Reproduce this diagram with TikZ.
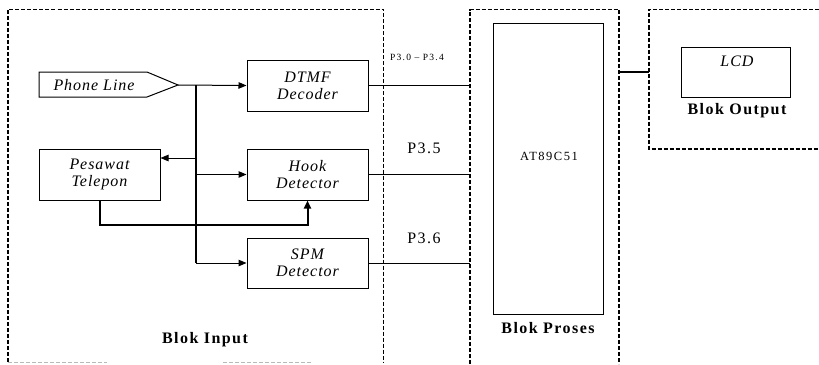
\documentclass[tikz,border=0pt]{standalone}
\usepackage{fontspec}
\setmainfont{Liberation Serif}
\newfontfamily\itlbl[LetterSpace=6]{Liberation Serif}
\newfontfamily\bdlbl[LetterSpace=9]{Liberation Serif}
\newfontfamily\portlbl[LetterSpace=9]{Liberation Serif}
\newfontfamily\mculbl[LetterSpace=12]{Liberation Serif}
\newfontfamily\tinylbl[LetterSpace=13]{Liberation Serif}
\usetikzlibrary{arrows.meta}
\tikzset{
  blk/.style={draw, line width=1pt, inner sep=0pt, align=center,
    font=\itlbl\itshape\fontsize{16}{17}\selectfont},
  grp/.style={line width=1.6pt, dash pattern=on 4pt off 2pt},
  grpfaint/.style={line width=1pt, draw=gray!55, dash pattern=on 4pt off 2pt},
  wire/.style={line width=1pt},
  bus/.style={line width=2pt},
  arr/.style={line width=1pt, -{Triangle[length=8pt,width=6.5pt]}},
  thickarr/.style={line width=2pt, -{Triangle[length=8pt,width=7pt]}},
  grplbl/.style={font=\bdlbl\bfseries\fontsize{16}{17}\selectfont},
  portl/.style={font=\portlbl\fontsize{16}{17}\selectfont},
}
\begin{document}
\begin{tikzpicture}[x=1pt,y=-1pt]
\useasboundingbox (0,0) rectangle (819,364);
% group boxes
\coordinate (inTL) at (8,9.5);
\coordinate (inTR) at (383.5,9.5);
\coordinate (inBR) at (383.5,362);
\coordinate (inBL) at (8,362);
\draw[grp] (inBL) -- (inTL) -- (inTR) -- (inBR);
\draw[grpfaint] (8,362) -- (107,362) (223,362) -- (312,362);
\coordinate (prTL) at (470,9.5);
\coordinate (prTR) at (619,9.5);
\draw[grp] (470,364) -- (prTL) -- (prTR) -- (619,364);
\coordinate (ouTL) at (649,9.5);
\coordinate (ouBL) at (649,149);
\draw[grp] (819,9.5) -- (ouTL) -- (ouBL) -- (819,149);
% blocks
\node[blk, minimum width=121pt, minimum height=51pt] (dtmf) at (307.5,85.5) {DTMF\\Decoder};
\node[blk, minimum width=121pt, minimum height=51pt] (hook) at (307.5,174.5) {Hook\\Detector};
\node[blk, minimum width=121pt, minimum height=50pt] (spm) at (307.5,263) {SPM\\Detector};
\node[blk, minimum width=121pt, minimum height=51pt] (pes) at (99.5,174.5) {Pesawat\\Telepon};
% phone line
\draw[line width=1pt] (39,72) -- (147,72) -- (178,85) coordinate (pl) -- (147,97) -- (39,97) -- cycle;
\node[font=\itlbl\itshape\fontsize{16}{17}\selectfont, inner sep=0pt] (pltxt) at (94,85) {Phone Line};
% processor
\node[draw, line width=1pt, minimum width=110pt, minimum height=291pt, inner sep=0pt] (mcu) at (548,168.5) {};
\node[font=\mculbl\fontsize{12.5}{14}\selectfont, inner sep=0pt] (mcutxt) at (549,156) {AT89C51};
% LCD
\node[draw, line width=1pt, minimum width=109pt, minimum height=50pt, inner sep=0pt] (lcd) at (735.5,72) {};
\node[font=\itlbl\itshape\fontsize{16}{17}\selectfont, inner sep=0pt] (lcdtxt) at (737,61) {LCD};
% group labels
\node[grplbl, inner sep=0pt] (lin) at (205,340) {Blok Input};
\node[grplbl, inner sep=0pt] (lpr) at (548,328) {Blok Proses};
\node[grplbl, inner sep=0pt] (lou) at (737,111) {Blok Output};
% bus
\coordinate (b1) at (196,85);
\coordinate (b2) at (196,158);
\coordinate (b3) at (196,174.5);
\coordinate (b4) at (196,263);
\draw[bus] (b1) -- (b4);
\draw[arr] (pl) -- (dtmf.west);
\draw[arr] (b2) -- (pes.east |- b2);
\draw[arr] (b3) -- (hook.west);
\draw[arr] (b4) -- (spm.west);
\draw[thickarr] (pes.south) -- ++(0,24) -| (hook.south);
% port lines
\draw[wire] (dtmf.east) -- (dtmf.east -| prTL);
\draw[wire] (hook.east) -- (hook.east -| prTL);
\draw[wire] (spm.east) -- (spm.east -| prTL);
\coordinate (pro) at (619,72);
\draw[line width=1.5pt] (pro) -- (pro -| ouTL);
% port labels
\node[font=\tinylbl\fontsize{9.5}{11}\selectfont, inner sep=0pt] (p30) at (417,57) {P3.0 – P3.4};
\node[portl, inner sep=0pt] (p35) at (424,148) {P3.5};
\node[portl, inner sep=0pt] (p36) at (424,238) {P3.6};
\end{tikzpicture}
\end{document}
